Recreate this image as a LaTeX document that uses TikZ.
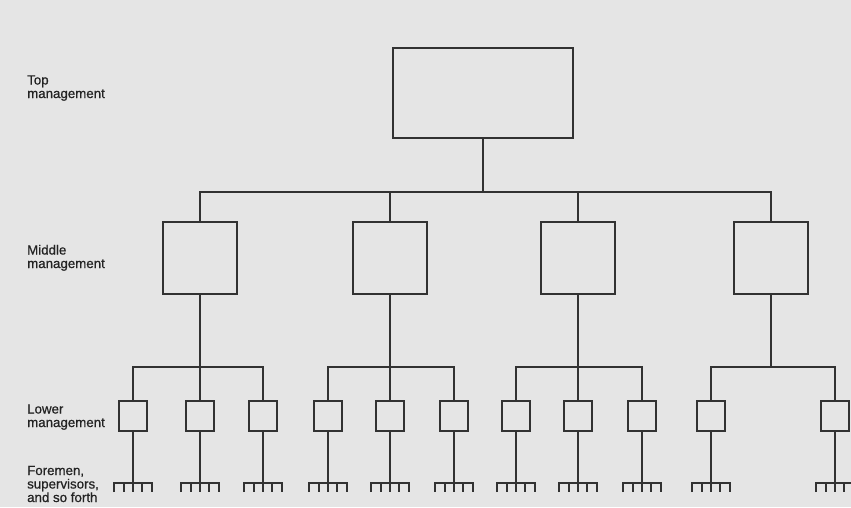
\documentclass[tikz,border=0pt]{standalone}
\usepackage{fontspec}
\setmainfont{Liberation Sans}
\newfontfamily\lblfont[FakeBold=0.7]{Liberation Sans}
\definecolor{paper}{RGB}{229,229,229}
\definecolor{linec}{RGB}{50,50,50}
\definecolor{textc}{RGB}{35,35,35}
\begin{document}
\begin{tikzpicture}[x=1pt,y=-1pt,
  line/.style={draw=linec,line width=1.6pt},
  box/.style={line,rectangle,inner sep=0pt,outer sep=0pt},
  bigbox/.style={box,minimum width=180pt,minimum height=90pt},
  midbox/.style={box,minimum width=74pt,minimum height=72pt},
  smallbox/.style={box,minimum width=28pt,minimum height=30pt},
  lbl/.style={anchor=base west,align=left,inner sep=0pt,text=textc,
    font=\lblfont\fontsize{13.3}{13.5}\selectfont}]
\fill[paper] (0,0) rectangle (851,507);
\useasboundingbox (0,0) rectangle (851,507);
\clip (0,0) rectangle (851,507);

% labels (anchor at baseline of last line)
\node[lbl] (ltop) at (27,98) {Top\\management};
\node[lbl] (lmid) at (27,268) {Middle\\management};
\node[lbl] (llow) at (27,427) {Lower\\management};
\node[lbl] (lfor) at (27,502) {Foremen,\\supervisors,\\and so forth};

% boxes
\node[bigbox] (top) at (483,93) {};
\node[midbox] (m1) at (200,258) {};
\node[midbox] (m2) at (390,258) {};
\node[midbox] (m3) at (578,258) {};
\node[midbox] (m4) at (771,258) {};

\node[smallbox] (a1) at (133,416) {};
\node[smallbox] (a2) at (200,416) {};
\node[smallbox] (a3) at (263,416) {};
\node[smallbox] (b1) at (328,416) {};
\node[smallbox] (b2) at (390,416) {};
\node[smallbox] (b3) at (454,416) {};
\node[smallbox] (c1) at (516,416) {};
\node[smallbox] (c2) at (578,416) {};
\node[smallbox] (c3) at (642,416) {};
\node[smallbox] (d1) at (711,416) {};
\node[smallbox] (d2) at (835,416) {};

% top bus
\coordinate (bus) at (483,192);
\draw[line] (top.south) -- (bus);
\draw[line] (m1.north) |- (bus) -| (m4.north);
\draw[line] (m2.north) -- (m2.north |- bus);
\draw[line] (m3.north) -- (m3.north |- bus);

% lower buses
\coordinate (lowbus) at (0,367);
\draw[line] (m1.south) -- (m1.south |- lowbus);
\draw[line] (a1.north) |- (a3.north |- lowbus) -- (a3.north);
\draw[line] (a2.north) -- (a2.north |- lowbus);
\draw[line] (m2.south) -- (m2.south |- lowbus);
\draw[line] (b1.north) |- (b3.north |- lowbus) -- (b3.north);
\draw[line] (b2.north) -- (b2.north |- lowbus);
\draw[line] (m3.south) -- (m3.south |- lowbus);
\draw[line] (c1.north) |- (c3.north |- lowbus) -- (c3.north);
\draw[line] (c2.north) -- (c2.north |- lowbus);
\draw[line] (m4.south) -- (m4.south |- lowbus);
\draw[line] (d1.north) |- (d2.north |- lowbus) -- (d2.north);

% rakes
\coordinate (rakeline) at (0,483);
\foreach \n in {a1,a2,a3,b1,b2,b3,c1,c2,c3,d1,d2}{
  \coordinate (r\n) at (\n.south |- rakeline);
  \draw[line] (\n.south) -- (r\n) -- +(0,9);
  \draw[line] (r\n) +(-19,9) -- +(-19,0) -- +(19,0) -- +(19,9);
  \draw[line] (r\n) +(-9,0) -- +(-9,9);
  \draw[line] (r\n) +(9,0) -- +(9,9);
}
\end{tikzpicture}
\end{document}
